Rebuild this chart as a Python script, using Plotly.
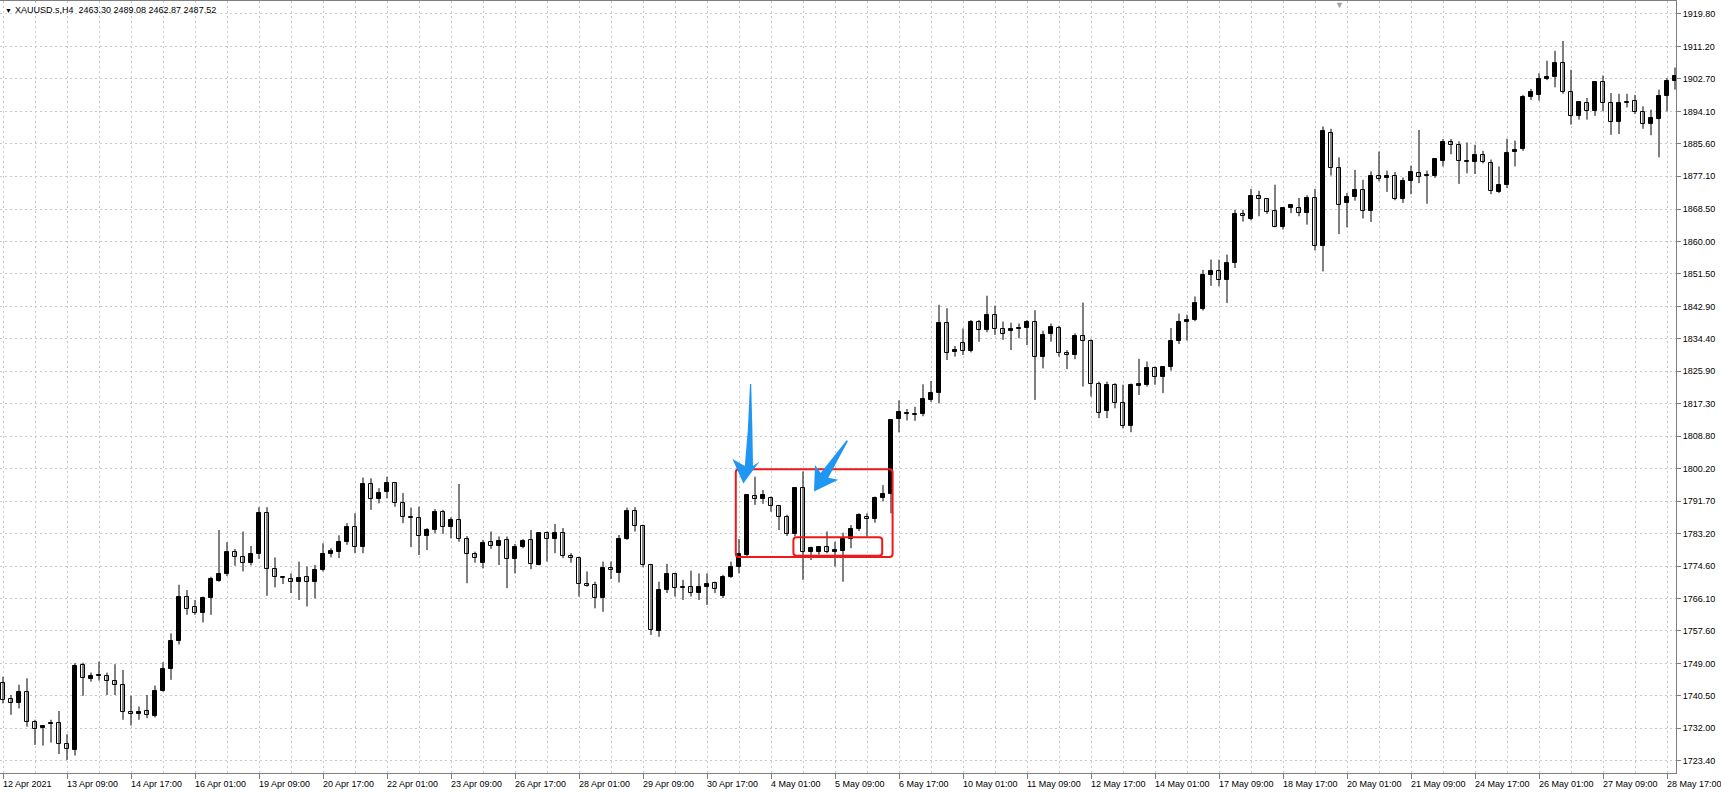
import plotly.graph_objects as go

# ---------------- data (H4 candles, XAUUSD, 12 Apr 2021 -> 28 May 2021) ----------------
x_labels = ["12 Apr 2021", "13 Apr 09:00", "14 Apr 17:00", "16 Apr 01:00", "19 Apr 09:00",
            "20 Apr 17:00", "22 Apr 01:00", "23 Apr 09:00", "26 Apr 17:00", "28 Apr 01:00",
            "29 Apr 09:00", "30 Apr 17:00", "4 May 01:00", "5 May 09:00", "6 May 17:00",
            "10 May 01:00", "11 May 09:00", "12 May 17:00", "14 May 01:00", "17 May 09:00",
            "18 May 17:00", "20 May 01:00", "21 May 09:00", "24 May 17:00", "26 May 01:00",
            "27 May 09:00", "28 May 17:00"]

price_ticks = [1919.80, 1911.20, 1902.70, 1894.10, 1885.60, 1877.10, 1868.50, 1860.00,
               1851.50, 1842.90, 1834.40, 1825.90, 1817.30, 1808.80, 1800.20, 1791.70,
               1783.20, 1774.60, 1766.10, 1757.60, 1749.00, 1740.50, 1732.00, 1723.40]

opens = [1743.8, 1739.6, 1738.5, 1741.4, 1733.5, 1732.0, 1733.0, 1733.3, 1727.8, 1726.3,
         1748.6, 1745.0, 1745.8, 1745.8, 1744.3, 1743.3, 1736.3, 1735.6, 1736.6, 1735.3,
         1741.8, 1747.5, 1754.8, 1766.6, 1763.8, 1762.2, 1766.1, 1770.8, 1772.5, 1778.2,
         1776.9, 1775.3, 1777.8, 1788.7, 1773.8, 1771.8, 1771.2, 1770.5, 1771.7, 1770.3,
         1773.6, 1777.7, 1778.2, 1781.0, 1784.8, 1779.5, 1796.2, 1792.2, 1794.2, 1796.4,
         1791.3, 1787.4, 1787.2, 1782.4, 1784.1, 1788.9, 1785.0, 1786.7, 1781.7, 1777.7,
         1775.5, 1780.9, 1780.0, 1781.5, 1776.5, 1779.7, 1781.5, 1775.0, 1783.2, 1781.7,
         1783.2, 1777.3, 1776.8, 1769.8, 1769.6, 1766.1, 1774.2, 1772.7, 1781.8, 1789.2,
         1785.2, 1774.8, 1757.5, 1768.3, 1772.5, 1769.0, 1769.0, 1767.5, 1769.0, 1770.1,
         1766.8, 1771.8, 1774.3, 1777.5, 1793.1, 1792.2, 1792.4, 1790.3, 1787.5, 1783.0,
         1795.2, 1778.4, 1778.2, 1779.7, 1778.4, 1778.7, 1781.7, 1784.3, 1787.4, 1786.9,
         1792.4, 1793.6, 1813.2, 1814.6, 1814.7, 1814.6, 1818.4, 1820.2, 1838.6, 1830.8,
         1833.2, 1831.2, 1838.8, 1836.7, 1840.6, 1836.9, 1836.3, 1836.9, 1837.1, 1838.7,
         1829.5, 1835.6, 1837.1, 1830.6, 1830.0, 1835.2, 1833.8, 1822.4, 1815.5, 1822.3,
         1817.6, 1811.5, 1822.0, 1822.3, 1826.8, 1824.2, 1826.9, 1833.7, 1838.7, 1839.4,
         1842.3, 1851.1, 1852.3, 1849.9, 1854.3, 1867.3, 1866.0, 1871.8, 1871.2, 1867.9,
         1863.8, 1868.8, 1868.9, 1867.4, 1871.4, 1858.8, 1888.5, 1879.4, 1870.1, 1871.6,
         1873.6, 1867.9, 1877.1, 1876.6, 1877.1, 1871.1, 1875.8, 1878.1, 1877.1, 1877.2,
         1881.2, 1886.0, 1885.4, 1881.2, 1880.8, 1882.8, 1880.6, 1873.1, 1874.7, 1883.5,
         1884.3, 1897.9, 1898.5, 1902.7, 1903.1, 1907.0, 1899.4, 1893.0, 1896.5, 1894.2,
         1901.9, 1896.4, 1891.5, 1896.6, 1896.8, 1893.9, 1890.9, 1892.2, 1898.1, 1902.2]

highs = [1745.5, 1740.7, 1743.4, 1745.1, 1734.2, 1732.8, 1734.2, 1736.5, 1730.4, 1749.1,
         1749.2, 1746.6, 1749.5, 1746.6, 1748.8, 1747.3, 1740.5, 1737.7, 1740.7, 1743.2,
         1749.3, 1756.9, 1769.7, 1768.3, 1765.7, 1766.6, 1771.8, 1784.1, 1780.9, 1779.1,
         1783.7, 1779.9, 1790.1, 1790.1, 1776.9, 1772.0, 1772.7, 1775.8, 1774.5, 1774.9,
         1780.6, 1779.3, 1782.7, 1785.9, 1788.5, 1797.9, 1797.7, 1795.1, 1798.1, 1796.6,
         1793.8, 1790.0, 1790.2, 1784.6, 1789.6, 1789.4, 1787.4, 1796.2, 1782.5, 1778.4,
         1781.5, 1783.7, 1782.4, 1782.4, 1780.4, 1781.7, 1784.1, 1783.5, 1783.7, 1785.7,
         1784.6, 1778.0, 1777.1, 1773.2, 1770.5, 1775.8, 1775.8, 1782.8, 1790.0, 1790.1,
         1785.5, 1775.2, 1770.5, 1775.2, 1772.7, 1771.0, 1773.4, 1772.7, 1772.7, 1770.5,
         1772.3, 1775.8, 1781.7, 1793.5, 1798.1, 1794.6, 1792.9, 1790.7, 1788.1, 1795.4,
         1799.5, 1779.7, 1779.7, 1783.7, 1781.0, 1783.4, 1785.4, 1788.5, 1788.5, 1792.9,
         1795.9, 1813.3, 1818.2, 1815.9, 1816.5, 1822.4, 1823.3, 1843.3, 1842.4, 1832.5,
         1837.1, 1839.3, 1839.3, 1845.7, 1843.1, 1838.9, 1838.6, 1838.4, 1839.3, 1841.9,
         1836.5, 1838.4, 1837.8, 1831.4, 1835.8, 1843.9, 1834.2, 1823.1, 1823.1, 1822.7,
         1822.3, 1822.6, 1829.1, 1828.4, 1827.1, 1827.2, 1837.2, 1841.0, 1840.7, 1845.5,
         1852.5, 1855.2, 1855.2, 1856.5, 1868.3, 1868.3, 1873.8, 1873.3, 1871.4, 1874.9,
         1868.9, 1869.8, 1871.4, 1872.1, 1873.8, 1890.2, 1889.6, 1882.1, 1872.7, 1878.8,
         1876.2, 1878.4, 1883.6, 1878.6, 1878.2, 1876.8, 1879.9, 1889.3, 1878.6, 1881.9,
         1886.9, 1886.9, 1886.3, 1886.0, 1885.4, 1883.8, 1881.5, 1879.7, 1887.0, 1886.5,
         1898.5, 1900.1, 1904.2, 1907.5, 1910.1, 1912.7, 1905.1, 1896.8, 1897.7, 1902.1,
         1903.6, 1899.0, 1898.8, 1898.8, 1898.5, 1895.5, 1894.6, 1899.9, 1902.9, 1905.7]

lows = [1738.5, 1735.5, 1737.2, 1732.4, 1727.6, 1727.4, 1728.2, 1725.2, 1723.6, 1724.8,
        1740.5, 1744.2, 1744.5, 1740.7, 1740.7, 1734.2, 1732.7, 1734.2, 1734.6, 1734.8,
        1741.6, 1744.7, 1754.0, 1761.8, 1761.8, 1759.8, 1761.8, 1770.5, 1772.0, 1774.7,
        1773.2, 1774.8, 1776.5, 1766.8, 1769.0, 1769.9, 1767.5, 1765.7, 1764.0, 1766.1,
        1773.2, 1776.9, 1776.7, 1780.2, 1778.0, 1778.0, 1789.4, 1791.1, 1792.4, 1790.2,
        1785.9, 1779.6, 1777.5, 1778.8, 1783.2, 1783.1, 1781.9, 1781.0, 1770.1, 1775.5,
        1774.0, 1779.1, 1774.9, 1768.8, 1772.7, 1779.3, 1773.8, 1774.8, 1775.8, 1778.0,
        1776.7, 1775.5, 1766.6, 1769.2, 1763.5, 1762.6, 1771.2, 1770.3, 1781.5, 1783.7,
        1774.3, 1756.5, 1756.0, 1767.5, 1766.6, 1765.7, 1766.6, 1765.7, 1764.4, 1767.5,
        1766.2, 1771.5, 1772.7, 1777.0, 1790.7, 1791.0, 1788.9, 1784.1, 1782.5, 1782.4,
        1771.0, 1776.2, 1777.6, 1778.0, 1774.5, 1770.5, 1779.3, 1783.8, 1782.4, 1786.0,
        1791.6, 1788.5, 1809.8, 1812.9, 1812.8, 1814.0, 1817.8, 1817.4, 1828.8, 1829.7,
        1830.1, 1830.8, 1833.6, 1836.1, 1835.4, 1834.1, 1831.4, 1834.5, 1832.7, 1818.3,
        1826.6, 1833.6, 1829.7, 1826.4, 1829.0, 1821.8, 1819.2, 1813.5, 1813.5, 1816.1,
        1810.8, 1809.8, 1819.6, 1821.8, 1822.3, 1820.1, 1826.0, 1833.0, 1833.9, 1839.0,
        1841.8, 1848.3, 1848.2, 1843.8, 1853.0, 1865.2, 1865.5, 1866.6, 1867.2, 1863.7,
        1863.1, 1867.4, 1866.6, 1864.4, 1857.6, 1852.1, 1877.3, 1861.9, 1863.7, 1870.7,
        1866.0, 1865.1, 1875.8, 1873.0, 1870.8, 1870.1, 1872.4, 1875.3, 1869.9, 1876.7,
        1879.7, 1882.9, 1875.1, 1877.9, 1877.7, 1880.5, 1872.4, 1872.7, 1874.0, 1879.7,
        1883.8, 1897.2, 1897.0, 1902.4, 1900.5, 1898.8, 1890.7, 1892.0, 1892.0, 1893.0,
        1894.2, 1888.0, 1888.2, 1895.2, 1893.5, 1889.6, 1887.9, 1882.1, 1894.2, 1899.9]

closes = [1739.4, 1738.5, 1741.4, 1733.5, 1731.8, 1732.6, 1733.4, 1727.8, 1726.5, 1748.4,
          1745.1, 1745.6, 1746.1, 1744.3, 1743.3, 1736.3, 1735.6, 1736.2, 1735.4, 1741.8,
          1747.5, 1754.8, 1766.6, 1763.3, 1762.2, 1766.2, 1771.3, 1772.5, 1778.2, 1777.1,
          1775.3, 1777.8, 1788.7, 1773.8, 1771.7, 1771.5, 1770.5, 1771.6, 1770.3, 1773.6,
          1777.7, 1778.7, 1781.0, 1784.8, 1779.5, 1796.2, 1792.2, 1793.8, 1796.4, 1791.3,
          1787.4, 1787.2, 1782.4, 1784.1, 1788.9, 1785.0, 1786.7, 1781.7, 1777.7, 1776.8,
          1780.8, 1780.0, 1781.3, 1776.4, 1779.7, 1781.2, 1775.2, 1783.2, 1781.7, 1783.2,
          1777.3, 1776.7, 1769.8, 1769.5, 1766.1, 1774.0, 1773.5, 1781.8, 1789.2, 1785.2,
          1774.8, 1757.9, 1768.3, 1772.5, 1768.8, 1768.8, 1767.5, 1769.0, 1769.9, 1768.5,
          1771.8, 1774.3, 1777.8, 1793.3, 1792.2, 1793.3, 1790.3, 1787.5, 1783.0, 1795.2,
          1778.4, 1779.3, 1779.5, 1778.4, 1778.9, 1781.7, 1784.3, 1788.1, 1787.0, 1792.4,
          1793.6, 1813.0, 1815.0, 1814.8, 1814.4, 1818.5, 1820.2, 1838.6, 1830.7, 1831.4,
          1831.2, 1838.8, 1836.7, 1840.6, 1836.9, 1835.6, 1837.0, 1837.3, 1838.7, 1829.5,
          1835.4, 1837.4, 1830.6, 1830.1, 1835.2, 1833.8, 1822.4, 1814.8, 1822.3, 1817.4,
          1811.5, 1822.3, 1822.5, 1826.8, 1824.2, 1826.9, 1833.7, 1838.8, 1839.4, 1843.8,
          1851.1, 1852.3, 1849.9, 1854.3, 1867.2, 1866.7, 1871.8, 1871.2, 1867.7, 1863.8,
          1868.8, 1869.5, 1867.4, 1871.4, 1858.8, 1888.9, 1879.4, 1869.6, 1871.6, 1873.6,
          1867.9, 1877.1, 1876.5, 1877.1, 1871.1, 1875.8, 1878.2, 1876.9, 1877.3, 1881.6,
          1886.0, 1885.4, 1881.2, 1880.8, 1882.8, 1880.8, 1873.3, 1874.7, 1883.2, 1884.1,
          1897.9, 1899.2, 1902.7, 1903.2, 1907.0, 1899.2, 1893.0, 1896.6, 1894.3, 1901.9,
          1896.4, 1891.5, 1896.4, 1896.4, 1893.9, 1890.9, 1892.4, 1898.1, 1902.2, 1903.6]

header_text = "XAUUSD.s,H4  2463.30 2489.08 2462.87 2487.52"

# annotations drawn on the chart (bar index, price)
box_big = (91.6, 1777.0, 111.2, 1800.1)
box_small = (98.8, 1777.3, 109.9, 1782.2)
arrow_1 = [(93.375, 1822.5), (93.10, 1810.4), (92.725, 1800.95), (91.19, 1802.8),
           (92.54, 1796.35), (94.56, 1802.1), (93.75, 1800.95), (93.675, 1810.4),
           (93.525, 1822.5)]
arrow_2 = [(105.45, 1807.7), (103.99, 1803.84), (102.21, 1799.1), (101.5, 1801.2),
           (101.375, 1794.2), (104.41, 1797.3), (103.16, 1797.84), (104.51, 1803.13),
           (105.625, 1807.5)]

# ---------------- figure ----------------
n = len(opens)
GRID = "rgb(196,201,214)"
GRID_DASH = "2px,3px"
AXIS = "#7f7f7f"
FONT = "Liberation Sans, Arial, sans-serif"
BODY_W = 0.56
MIN_BODY = 0.25

wx, wy = [], []
up_x, up_base, up_h = [], [], []
dn_x, dn_base, dn_h = [], [], []
for i in range(n):
    o, h, l, c = opens[i], highs[i], lows[i], closes[i]
    wx += [i, i, None]
    wy += [l, h, None]
    lo = min(o, c)
    size = max(abs(c - o), MIN_BODY)
    if c >= o:
        up_x.append(i); up_base.append(lo); up_h.append(size)
    else:
        dn_x.append(i); dn_base.append(lo); dn_h.append(size)

fig = go.Figure()
fig.add_trace(go.Scatter(x=wx, y=wy, mode="lines", line=dict(color="black", width=1),
                         hoverinfo="skip", showlegend=False))
fig.add_trace(go.Bar(x=dn_x, y=dn_h, base=dn_base, width=BODY_W,
                     marker=dict(color="white", line=dict(color="black", width=1)),
                     hoverinfo="skip", showlegend=False))
fig.add_trace(go.Bar(x=up_x, y=up_h, base=up_base, width=BODY_W,
                     marker=dict(color="black", line=dict(color="black", width=1)),
                     hoverinfo="skip", showlegend=False))

label_pos = list(range(0, n, 8))[:len(x_labels)]


def rounded_rect(x0, y0, x1, y1, rx=0.4, ry=0.8):
    return (f"M {x0 + rx},{y0} L {x1 - rx},{y0} Q {x1},{y0} {x1},{y0 + ry} "
            f"L {x1},{y1 - ry} Q {x1},{y1} {x1 - rx},{y1} L {x0 + rx},{y1} "
            f"Q {x0},{y1} {x0},{y1 - ry} L {x0},{y0 + ry} Q {x0},{y0} {x0 + rx},{y0} Z")


shapes = []
for box in (box_big, box_small):
    shapes.append(dict(type="path", xref="x", yref="y", path=rounded_rect(*box),
                       line=dict(color="#f01818", width=2), fillcolor="rgba(0,0,0,0)"))
for arr in (arrow_1, arrow_2):
    path = "M " + " L ".join(f"{a},{b}" for a, b in arr) + " Z"
    shapes.append(dict(type="path", xref="x", yref="y", path=path,
                       fillcolor="#1f97f2", line=dict(width=0)))

annotations = []
for pos, txt in zip(label_pos, x_labels):
    annotations.append(dict(x=pos, y=0, xref="x", yref="paper", text=txt, showarrow=False,
                            xanchor="left", yanchor="top", yshift=-4, xshift=-2,
                            font=dict(family=FONT, size=9, color="black")))
annotations.append(dict(x=0, y=1, xref="paper", yref="paper", text="▼", showarrow=False,
                        xanchor="left", yanchor="middle", xshift=3, yshift=-9,
                        font=dict(family=FONT, size=7, color="black")))
annotations.append(dict(x=0, y=1, xref="paper", yref="paper", text=header_text,
                        showarrow=False, xanchor="left", yanchor="middle", xshift=13,
                        yshift=-9, font=dict(family=FONT, size=9, color="black")))
annotations.append(dict(x=0.7995, y=1, xref="paper", yref="paper", text="▼",
                        showarrow=False, xanchor="center", yanchor="top", yshift=3,
                        font=dict(family=FONT, size=9, color="#a0a0a0")))

fig.update_layout(
    width=1721, height=793,
    margin=dict(l=0, r=45, t=1, b=20, autoexpand=False),
    paper_bgcolor="white", plot_bgcolor="white",
    barmode="overlay", bargap=0,
    showlegend=False,
    shapes=shapes, annotations=annotations,
    xaxis=dict(range=[-0.375, n - 0.875], tickmode="array", tickvals=label_pos,
               showticklabels=False, ticks="outside", ticklen=5, tickcolor=AXIS,
               showgrid=True, gridcolor=GRID, gridwidth=1, griddash=GRID_DASH,
               minor=dict(tickmode="array", tickvals=[p + 4 for p in label_pos],
                          showgrid=True, gridcolor=GRID, gridwidth=1, griddash=GRID_DASH,
                          ticks=""),
               showline=True, linecolor=AXIS, linewidth=1, mirror=True,
               zeroline=False, fixedrange=True),
    yaxis=dict(range=[1720.2, 1923.2], side="right", tickmode="array",
               tickvals=price_ticks, ticktext=[f"{v:.2f}" for v in price_ticks],
               ticks="outside", ticklen=4, tickcolor=AXIS,
               tickfont=dict(family=FONT, size=9, color="black"),
               showgrid=True, gridcolor=GRID, gridwidth=1, griddash=GRID_DASH,
               showline=True, linecolor=AXIS, linewidth=1, mirror=True,
               zeroline=False, fixedrange=True),
)

fig.write_html("out.html", config={"displayModeBar": False},
               post_script="document.body.style.margin='0';document.body.style.overflow='hidden';")
